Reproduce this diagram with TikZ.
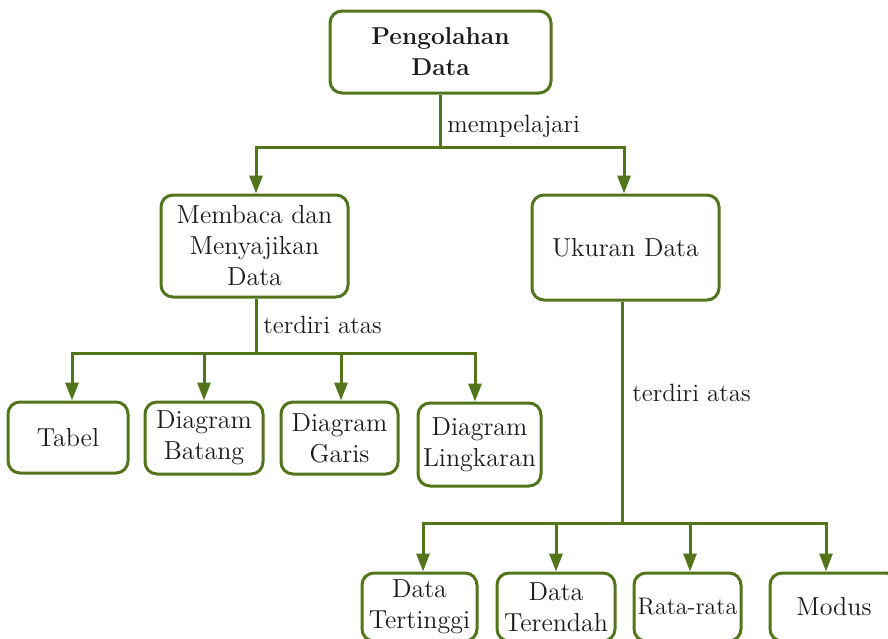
\documentclass[tikz,border=0pt]{standalone}
\usetikzlibrary{arrows.meta}
\definecolor{lg}{RGB}{82,117,28}
\definecolor{txt}{RGB}{28,26,27}
\begin{document}
\begin{tikzpicture}[x=0.5pt,y=-0.5pt,
  box/.style={draw=lg, line width=1.5pt, rounded corners=6pt, align=center,
    font=\fontsize{13}{15.5}\selectfont, inner sep=0pt, text=txt},
  conn/.style={draw=lg, line width=1.5pt},
  arr/.style={conn, -{Triangle[width=6.5pt,length=9pt]}},
  lbl/.style={font=\fontsize{12.5}{15.5}\selectfont, anchor=west, inner sep=0pt, text=txt}]
\useasboundingbox (0,0) rectangle (888,638);
\clip (0,0) rectangle (888,638);
% nodes
\node[box, font=\fontsize{12.2}{15.5}\selectfont, minimum width=110.5pt, minimum height=41pt] (top) at (440.5,52) {\textbf{Pengolahan}\\\textbf{Data}};
\node[box, minimum width=93.5pt, minimum height=51pt] (baca) at (254.5,246) {Membaca dan\\Menyajikan\\Data};
\node[box, minimum width=93.5pt, minimum height=52.5pt] (ukuran) at (625.5,247.5) {Ukuran Data};
\node[box, minimum width=60pt, minimum height=35.5pt] (tabel) at (68,437.5) {Tabel};
\node[box, minimum width=59pt, minimum height=36pt] (batang) at (204,438) {Diagram\\Batang};
\node[box, minimum width=58.5pt, minimum height=36pt] (garis) at (339.5,438) {Diagram\\Garis};
\node[box, minimum width=61.5pt, minimum height=41.5pt] (lingkaran) at (479.5,444.5) {Diagram\\Lingkaran};
\node[box, minimum width=57.5pt, minimum height=34pt] (tinggi) at (419.5,607) {Data\\Tertinggi};
\node[box, minimum width=59pt, minimum height=34pt] (rendah) at (556,607) {Data\\Terendah};
\node[box, font=\fontsize{12}{15.5}\selectfont, minimum width=53.5pt, minimum height=34pt] (rata) at (687.5,607) {Rata-rata};
\node[box, minimum width=64pt, minimum height=34pt] (modus) at (834,607) {Modus};
% junctions
\coordinate (j1) at (440.5,147);
\coordinate (j2) at (256,353);
\coordinate (j3) at (622,523);
% connectors
\draw[conn] (top.south) -- (j1);
\draw[arr] (j1) -| ([xshift=0.75pt]baca.north);
\draw[arr] (j1) -| ([xshift=-0.75pt]ukuran.north);
\node[lbl] (l1) at (447,126) {mempelajari};
\draw[conn] ([xshift=0.75pt]baca.south) -- (j2);
\node[lbl] (l2) at (263,325) {terdiri atas};
\draw[arr] (j2) -| ([xshift=2pt]tabel.north);
\draw[arr] (j2) -| (batang.north);
\draw[arr] (j2) -| ([xshift=0.75pt]garis.north);
\draw[arr] (j2) -| ([xshift=-2.25pt]lingkaran.north);
\draw[conn] ([xshift=-1.75pt]ukuran.south) -- (j3);
\node[lbl] (l3) at (632,393) {terdiri atas};
\draw[arr] (j3) -| ([xshift=1.75pt]tinggi.north);
\draw[arr] (j3) -| (rendah.north);
\draw[arr] (j3) -| ([xshift=1.25pt]rata.north);
\draw[arr] (j3) -| ([xshift=-4pt]modus.north);
\end{tikzpicture}
\end{document}
